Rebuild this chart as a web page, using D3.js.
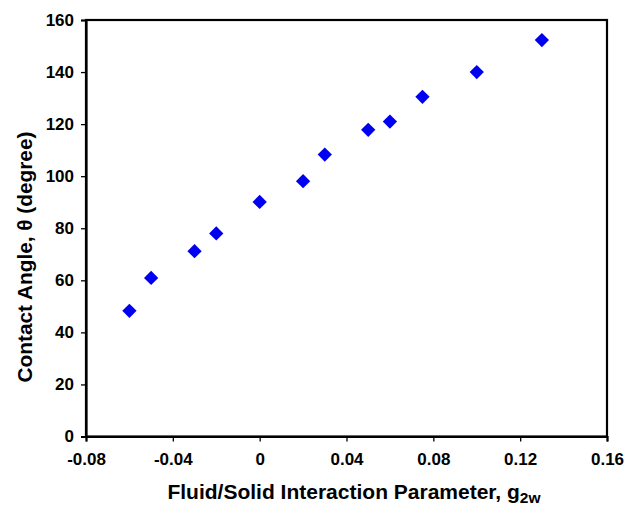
<!DOCTYPE html>
<html><head><meta charset="utf-8">
<script src="https://cdn.jsdelivr.net/npm/d3@7"></script>
<style>body{margin:0;background:#fff}svg{display:block}</style>
</head><body>
<svg id="c" width="640" height="507"></svg>
<script>
const xValues = [-0.06, -0.05, -0.03, -0.02, 0, 0.02, 0.03, 0.05, 0.06, 0.075, 0.10, 0.13];
const yValues = [48.3, 60.9, 71.2, 78.0, 90.1, 98.1, 108.3, 117.8, 121.0, 130.5, 140.0, 152.3];
const xTicks = [-0.08, -0.04, 0, 0.04, 0.08, 0.12, 0.16];
const xTickLabels = ["-0.08", "-0.04", "0", "0.04", "0.08", "0.12", "0.16"];
const yTicks = [0, 20, 40, 60, 80, 100, 120, 140, 160];
const yTickLabels = ["0", "20", "40", "60", "80", "100", "120", "140", "160"];

const svg = d3.select("#c");
const L = 86, R = 607, T = 20, B = 436.5;
const x = d3.scaleLinear().domain([-0.08, 0.16]).range([L, R]);
const y = d3.scaleLinear().domain([0, 160]).range([B, T]);
const font = "'Liberation Sans', Arial, sans-serif";

// frame
svg.append("rect").attr("x", L).attr("y", T).attr("width", R - L).attr("height", B - T)
  .attr("fill", "none").attr("stroke", "#000").attr("stroke-width", 2.2);

const xa = svg.append("g").attr("transform", `translate(0,${B})`)
  .call(d3.axisBottom(x).tickValues(xTicks).tickFormat((d, i) => xTickLabels[i]).tickSize(5).tickPadding(8));
const ya = svg.append("g").attr("transform", `translate(${L},0)`)
  .call(d3.axisLeft(y).tickValues(yTicks).tickFormat((d, i) => yTickLabels[i]).tickSize(5).tickPadding(7));
[xa, ya].forEach(a => {
  a.select(".domain").attr("stroke-width", 2.2);
  a.selectAll(".tick line").attr("stroke-width", 1.3);
  a.selectAll("text").attr("font-family", font).attr("font-weight", "bold")
    .attr("font-size", 17).attr("fill", "#000");
});
xa.selectAll("text").attr("dy", "0.9em");

// points
const diamond = d3.symbol().type(d3.symbolDiamond2).size(130);
svg.append("g").selectAll("path").data(xValues).join("path")
  .attr("d", diamond)
  .attr("transform", (d, i) => `translate(${x(d)},${y(yValues[i])})`)
  .attr("fill", "#0000f0");

// axis titles
const xt = svg.append("text").attr("x", 354).attr("y", 499)
  .attr("text-anchor", "middle").attr("font-family", font).attr("font-weight", "bold")
  .attr("font-size", 21).attr("fill", "#000");
xt.append("tspan").text("Fluid/Solid Interaction Parameter, g");
xt.append("tspan").attr("font-size", 15.5).attr("dy", 4).text("2w");

svg.append("text").attr("transform", `translate(32,257) rotate(-90)`)
  .attr("text-anchor", "middle").attr("font-family", font).attr("font-weight", "bold")
  .attr("font-size", 20.8).attr("fill", "#000")
  .text("Contact Angle, θ (degree)");
</script>
</body></html>
